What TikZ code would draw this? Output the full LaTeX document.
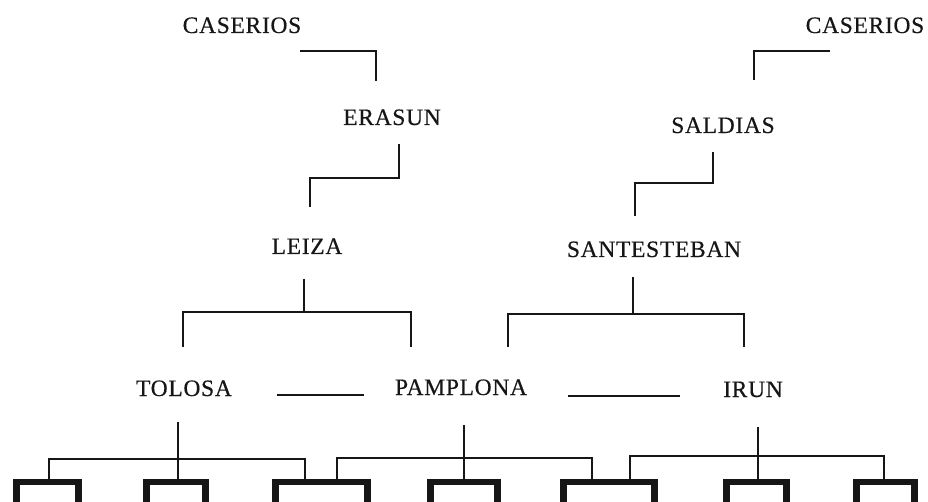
\documentclass[tikz,border=0pt]{standalone}
\usepackage{fontspec}
\setmainfont{Liberation Serif}[LetterSpace=3,FakeBold=0.4]
\definecolor{ink}{RGB}{22,22,22}
\begin{document}
\begin{tikzpicture}[x=1pt,y=-1pt,
  place/.style={anchor=base,inner sep=0pt,text=ink,font=\fontsize{23.5}{27}\selectfont},
  link/.style={draw=ink,line width=2.1pt,line cap=butt,line join=miter},
  heavy/.style={draw=ink,line width=2.7pt,line join=miter},
  dashline/.style={draw=ink,line width=1.4pt},
  cell/.style={draw=ink,line width=6.5pt,line join=miter}]
\useasboundingbox (0,0) rectangle (928,502);
\fill[white] (0,0) rectangle (928,502);
\clip (0,0) rectangle (928,502);

% place names
\node[place] (casL) at (242,33) {CASERIOS};
\node[place] (casR) at (865,33) {CASERIOS};
\node[place] (erasun) at (392,125) {ERASUN};
\node[place] (saldias) at (723,133) {SALDIAS};
\node[place] (leiza) at (307,254) {LEIZA};
\node[place] (santest) at (654,257) {SANTESTEBAN};
\node[place] (tolosa) at (184,396) {TOLOSA};
\node[place] (pamplona) at (461,395) {PAMPLONA};
\node[place] (irun) at (753,397) {IRUN};

% bracket points
\coordinate (c1a) at (300,51);  \coordinate (c1b) at (376,51);  \coordinate (c1c) at (376,81);
\coordinate (e1) at (399,144);  \coordinate (e2) at (399,178);  \coordinate (e3) at (310,178); \coordinate (e4) at (310,207);
\coordinate (c2a) at (830,51);  \coordinate (c2b) at (754,51);  \coordinate (c2c) at (754,80);
\coordinate (s1) at (713,152);  \coordinate (s2) at (713,183);  \coordinate (s3) at (635,183); \coordinate (s4) at (635,216);
\coordinate (l1) at (304,279);  \coordinate (l2) at (304,312);
\coordinate (l3) at (183,347);  \coordinate (l4) at (183,312); \coordinate (l5) at (411,312); \coordinate (l6) at (411,347);
\coordinate (t1) at (633,277);  \coordinate (t2) at (633,314);
\coordinate (t3) at (508,347);  \coordinate (t4) at (508,314); \coordinate (t5) at (744,314); \coordinate (t6) at (744,347);
\coordinate (d1a) at (277,395); \coordinate (d1b) at (364,395);
\coordinate (d2a) at (568,396); \coordinate (d2b) at (680,396);

% upper connectors
\draw[link] (c1a) -- (c1b) -- (c1c);
\draw[link] (e1) -- (e2) -- (e3) -- (e4);
\draw[link] (c2a) -- (c2b) -- (c2c);
\draw[link] (s1) -- (s2) -- (s3) -- (s4);
\draw[heavy] (l1) -- (l2);
\draw[heavy] (l3) -- (l4) -- (l5) -- (l6);
\draw[heavy] (t1) -- (t2);
\draw[heavy] (t3) -- (t4) -- (t5) -- (t6);
\draw[dashline] (d1a) -- (d1b);
\draw[dashline] (d2a) -- (d2b);

% bottom cells (open below)
\foreach \n/\a/\b in {1/16.5/78.5,2/146.5/205.5,3/275.5/367.5,4/430.5/497.5,5/563.5/654.5,6/726.5/786.5,7/856.5/914.5}{
  \draw[cell] (\a,503) -- (\a,482) -- (\b,482) -- (\b,503);
}
\coordinate (b1) at (49,482);  \coordinate (b2) at (178,482); \coordinate (b3l) at (305,482);
\coordinate (b3r) at (337,482); \coordinate (b4) at (464,482); \coordinate (b5l) at (592,482);
\coordinate (b5r) at (630,482); \coordinate (b6) at (758,482); \coordinate (b7) at (884,482);
\coordinate (tolo) at (178,422); \coordinate (pamp) at (464,425); \coordinate (iru) at (758,427);

% bottom connectors
\draw[link] (b1) -- (49,459) -- (305,459) -- (b3l);
\draw[link] (tolo) -- (b2);
\draw[link] (b3r) -- (337,458) -- (592,458) -- (b5l);
\draw[link] (pamp) -- (b4);
\draw[link] (b5r) -- (630,456) -- (884,456) -- (b7);
\draw[link] (iru) -- (b6);
\end{tikzpicture}
\end{document}
